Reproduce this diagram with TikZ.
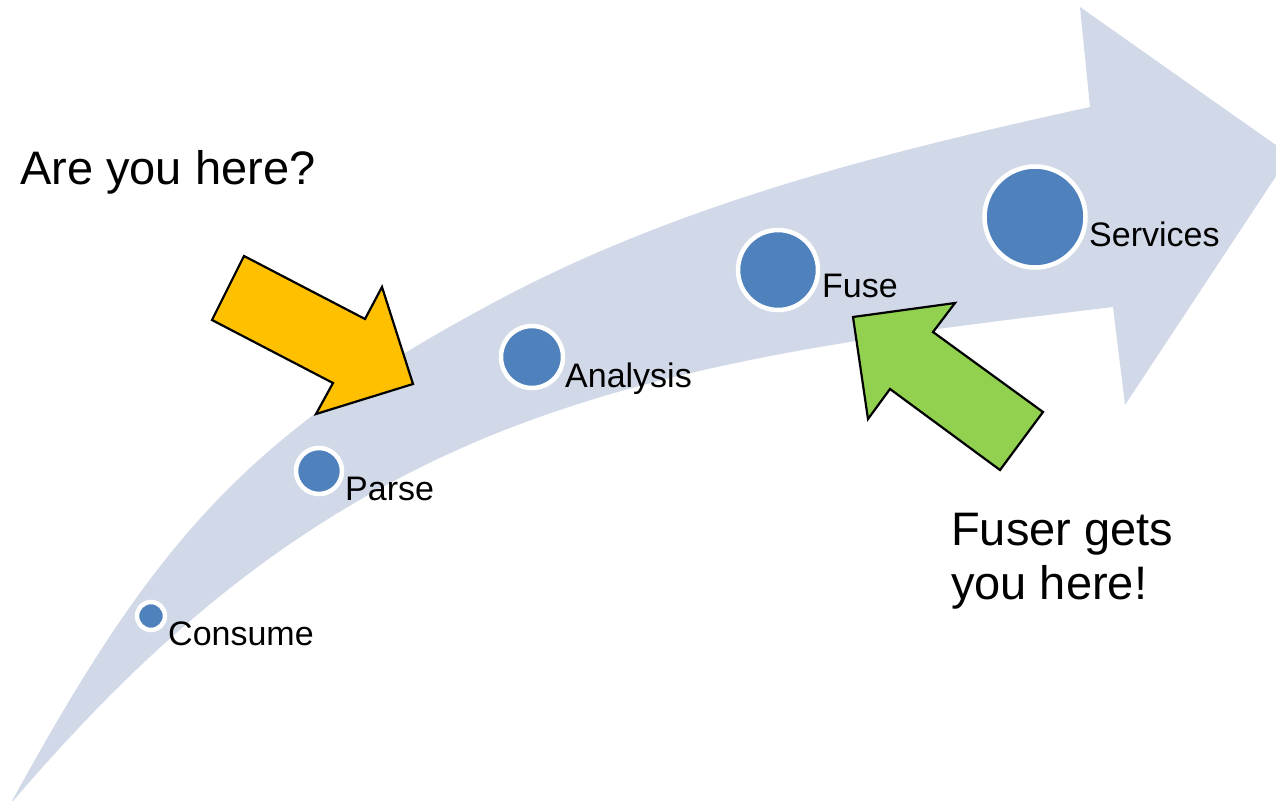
\documentclass[tikz,border=0pt]{standalone}
\usepackage{fontspec}
\setmainfont{Liberation Sans}
\definecolor{flow}{HTML}{D1D9E8}
\definecolor{dotblue}{HTML}{4F81BD}
\definecolor{yel}{HTML}{FFC000}
\definecolor{grn}{HTML}{92D050}
\begin{document}
\begin{tikzpicture}[x=1pt,y=-1pt,
  stage/.style={circle,fill=dotblue,draw=white,line width=4.5pt,inner sep=0pt},
  lbl/.style={anchor=base west,inner sep=0pt,font=\fontsize{34}{40}\selectfont},
  big/.style={inner sep=0pt,font=\fontsize{47}{54}\selectfont},
  callout/.style={draw=black,line width=2.2pt,line join=miter}]
\clip (0,0) rectangle (1276,802);
\fill[white] (0,0) rectangle (1276,802);
% big flow arrow
\fill[flow] (12,801) .. controls (150,550) and (240,440) .. (480,310)
  .. controls (668,206) and (880,153) .. (1090,107)
  -- (1080,7) -- (1290,155) -- (1125,405) -- (1113,307)
  .. controls (900,333) and (678,357) .. (480,440)
  .. controls (296,518) and (155,635) .. (13,801) -- cycle;
% stages
\node[stage,minimum size=28pt] (consume) at (151,616) {};
\node[stage,minimum size=46pt] (parse) at (319,471) {};
\node[stage,minimum size=62pt] (analysis) at (532,357) {};
\node[stage,minimum size=80pt] (fuse) at (778,270) {};
\node[stage,minimum size=101pt] (services) at (1035,217) {};
\node[lbl] (tconsume) at (168,645) {Consume};
\node[lbl] (tparse) at (345,500) {Parse};
\node[lbl] (tanalysis) at (565,387) {Analysis};
\node[lbl] (tfuse) at (822,298) {Fuse};
\node[lbl] (tservices) at (1089,247) {Services};
% callout arrows
\draw[callout,fill=yel] (244,256) -- (212,320) -- (333,383) -- (316,414) -- (413,384) -- (382,287) -- (365,319) -- cycle;
\draw[callout,fill=grn] (853,317) -- (955,303) -- (933,332) -- (1043,412) -- (1000,470) -- (890,389) -- (868,419) -- cycle;
% texts
\node[big,anchor=base west] (here) at (20,185) {Are you here?};
\node[big,anchor=base west,align=left] (fuser) at (951,599) {Fuser gets\\you here!};
\end{tikzpicture}
\end{document}
